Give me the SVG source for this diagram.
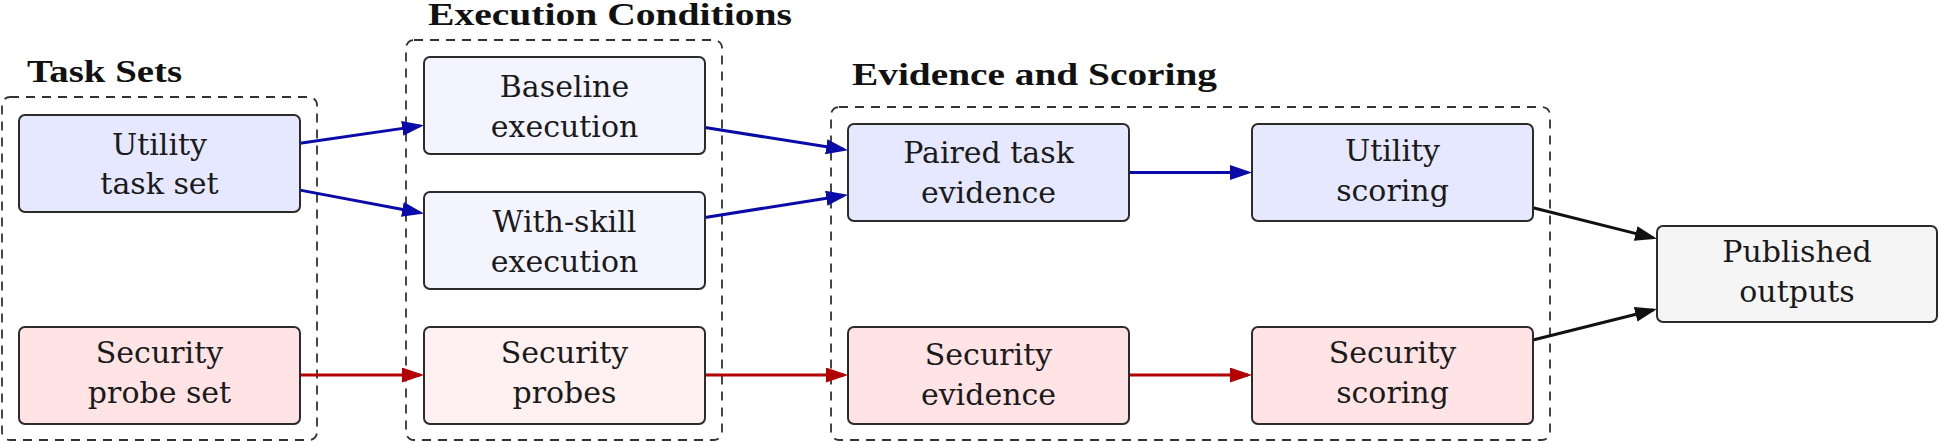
<svg xmlns="http://www.w3.org/2000/svg" width="1939" height="442" viewBox="0 0 1939 442">
<style>
.grp{fill:none;stroke:#333;stroke-width:1.8;stroke-dasharray:9 7}
.title{font-family:"Liberation Serif","DejaVu Serif",serif;font-weight:bold;font-size:32px;fill:#111}
.nr{stroke:#2b2b2b;stroke-width:2}
.t{font-family:"DejaVu Serif",serif;font-size:30px;fill:#1a1a1a;text-anchor:middle}
.ub{fill:#E6E8FF}
.ul{fill:#F3F4FF}
.rb{fill:#FFE3E5}
.rl{fill:#FFF1F1}
.gr{fill:#F5F5F5}
.c{fill:none;stroke-width:3}
.cb{stroke:#0A0AA8}
.cr{stroke:#B30000}
.ck{stroke:#111}
</style>
<defs>
<marker id="ab" markerUnits="userSpaceOnUse" markerWidth="24" markerHeight="17" refX="18" refY="7.5" orient="auto"><path d="M0,0 L22,7.5 L0,15 Z" fill="#0A0AA8"/></marker>
<marker id="ar" markerUnits="userSpaceOnUse" markerWidth="24" markerHeight="17" refX="18" refY="7.5" orient="auto"><path d="M0,0 L22,7.5 L0,15 Z" fill="#B30000"/></marker>
<marker id="ak" markerUnits="userSpaceOnUse" markerWidth="24" markerHeight="17" refX="18" refY="7.5" orient="auto"><path d="M0,0 L22,7.5 L0,15 Z" fill="#111"/></marker>
</defs>
<rect width="1939" height="442" fill="#fff"/>
<g id="group-tasksets">
<rect class="grp" x="2" y="97" width="315" height="343" rx="8"/>
<text class="title" x="27" y="82" textLength="155" lengthAdjust="spacingAndGlyphs">Task Sets</text>
</g>
<g id="group-execution">
<rect class="grp" x="406" y="40" width="316" height="400" rx="8"/>
<text class="title" x="428" y="25" textLength="364" lengthAdjust="spacingAndGlyphs">Execution Conditions</text>
</g>
<g id="group-evidence">
<rect class="grp" x="831" y="107" width="719" height="333" rx="8"/>
<text class="title" x="852" y="85" textLength="365" lengthAdjust="spacingAndGlyphs">Evidence and Scoring</text>
</g>
<g id="connectors">
<path class="c cb" d="M300,143.2 L420.04,125.87" marker-end="url(#ab)"/>
<path class="c cb" d="M300,190.1 L420.07,212.76" marker-end="url(#ab)"/>
<path class="c cr" d="M300,375 L420,375" marker-end="url(#ar)"/>
<path class="c cb" d="M705,127.5 L844.05,149.57" marker-end="url(#ab)"/>
<path class="c cb" d="M705,217.5 L844.05,195.43" marker-end="url(#ab)"/>
<path class="c cr" d="M705,375 L844,375" marker-end="url(#ar)"/>
<path class="c cb" d="M1129,172.5 L1248,172.5" marker-end="url(#ab)"/>
<path class="c cr" d="M1129,375 L1248,375" marker-end="url(#ar)"/>
<path class="c ck" d="M1533,207.7 L1653.12,237.83" marker-end="url(#ak)"/>
<path class="c ck" d="M1533,340 L1653.12,309.97" marker-end="url(#ak)"/>
</g>
<g id="node-utility-task-set">
<rect class="nr ub" x="19" y="115" width="281" height="97" rx="6"/>
<text class="t" x="159.5" y="155">Utility</text><text class="t" x="159.5" y="194">task set</text>
</g>
<g id="node-security-probe-set">
<rect class="nr rb" x="19" y="327" width="281" height="97" rx="6"/>
<text class="t" x="159.5" y="363">Security</text><text class="t" x="159.5" y="403">probe set</text>
</g>
<g id="node-baseline">
<rect class="nr ul" x="424" y="57" width="281" height="97" rx="6"/>
<text class="t" x="564.5" y="97">Baseline</text><text class="t" x="564.5" y="137">execution</text>
</g>
<g id="node-withskill">
<rect class="nr ul" x="424" y="192" width="281" height="97" rx="6"/>
<text class="t" x="564.5" y="232">With-skill</text><text class="t" x="564.5" y="272">execution</text>
</g>
<g id="node-security-probes">
<rect class="nr rl" x="424" y="327" width="281" height="97" rx="6"/>
<text class="t" x="564.5" y="363">Security</text><text class="t" x="564.5" y="403">probes</text>
</g>
<g id="node-paired">
<rect class="nr ub" x="848" y="124" width="281" height="97" rx="6"/>
<text class="t" x="988.5" y="163">Paired task</text><text class="t" x="988.5" y="203">evidence</text>
</g>
<g id="node-utility-scoring">
<rect class="nr ub" x="1252" y="124" width="281" height="97" rx="6"/>
<text class="t" x="1392.5" y="161">Utility</text><text class="t" x="1392.5" y="201">scoring</text>
</g>
<g id="node-security-evidence">
<rect class="nr rb" x="848" y="327" width="281" height="97" rx="6"/>
<text class="t" x="988.5" y="365">Security</text><text class="t" x="988.5" y="405">evidence</text>
</g>
<g id="node-security-scoring">
<rect class="nr rb" x="1252" y="327" width="281" height="97" rx="6"/>
<text class="t" x="1392.5" y="363">Security</text><text class="t" x="1392.5" y="403">scoring</text>
</g>
<g id="node-published">
<rect class="nr gr" x="1657" y="226" width="280" height="96" rx="6"/>
<text class="t" x="1797" y="262">Published</text><text class="t" x="1797" y="302">outputs</text>
</g>
</svg>
